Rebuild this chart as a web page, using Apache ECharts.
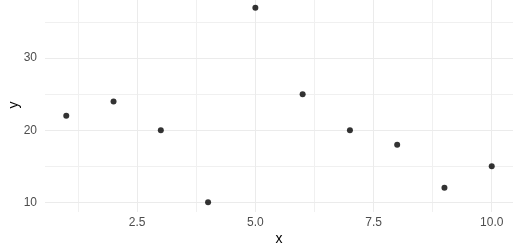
<!DOCTYPE html>
<html>
<head>
<meta charset="utf-8">
<script src="https://cdn.jsdelivr.net/npm/echarts@6/dist/echarts.min.js"></script>
<style>html,body{margin:0;padding:0;background:#fff}#c{width:520px;height:245px}</style>
</head>
<body>
<div id="c"></div>
<script>
const xValues = [1, 2, 3, 4, 5, 6, 7, 8, 9, 10];
const yValues = [22, 24, 20, 10, 37, 25, 20, 18, 12, 15];
const xMajorTicks = [2.5, 5.0, 7.5, 10.0];
const xMinorTicks = [1.25, 3.75, 6.25, 8.75];
const yMajorTicks = [10, 20, 30];
const yMinorTicks = [15, 25, 35];

const chart = echarts.init(document.getElementById('c'), null, {renderer: 'canvas'});
const points = xValues.map((x, i) => [x, yValues[i]]);
const font = 'Liberation Sans, Arial, sans-serif';

function gridSeries(xs, ys, color, width) {
  return {
    type: 'scatter', data: [], silent: true, z: 1,
    markLine: {
      silent: true, symbol: ['none', 'none'], animation: false,
      label: {show: false},
      lineStyle: {color: color, width: width, type: 'solid'},
      data: xs.map(v => ({xAxis: v})).concat(ys.map(v => ({yAxis: v})))
    }
  };
}

chart.setOption({
  animation: false,
  backgroundColor: '#ffffff',
  grid: {left: 45, right: 7, top: -2, bottom: 33, containLabel: false, outerBoundsMode: 'none'},
  xAxis: {
    type: 'value', min: 0.55, max: 10.45,
    axisLine: {show: false}, axisTick: {show: false}, splitLine: {show: false},
    axisLabel: {customValues: xMajorTicks, formatter: v => v.toFixed(1), color: '#4D4D4D', fontSize: 12, fontFamily: font, margin: 5},
    name: 'x', nameLocation: 'middle', nameGap: 20, nameMoveOverlap: false,
    nameTextStyle: {color: '#000', fontSize: 14, fontFamily: font}
  },
  yAxis: {
    type: 'value', min: 8.65, max: 38.35,
    axisLine: {show: false}, axisTick: {show: false}, splitLine: {show: false},
    axisLabel: {customValues: yMajorTicks, color: '#4D4D4D', fontSize: 12, fontFamily: font, margin: 8},
    name: 'y', nameLocation: 'middle', nameGap: 24, nameRotate: 90, nameMoveOverlap: false,
    nameTextStyle: {color: '#000', fontSize: 14, fontFamily: font}
  },
  series: [
    gridSeries(xMinorTicks, yMinorTicks, '#F0F0F0', 1),
    gridSeries(xMajorTicks, yMajorTicks, '#EBEBEB', 1),
    {
      type: 'scatter', data: points, symbolSize: 6, z: 5,
      itemStyle: {color: '#000'}
    }
  ]
});
</script>
</body>
</html>
